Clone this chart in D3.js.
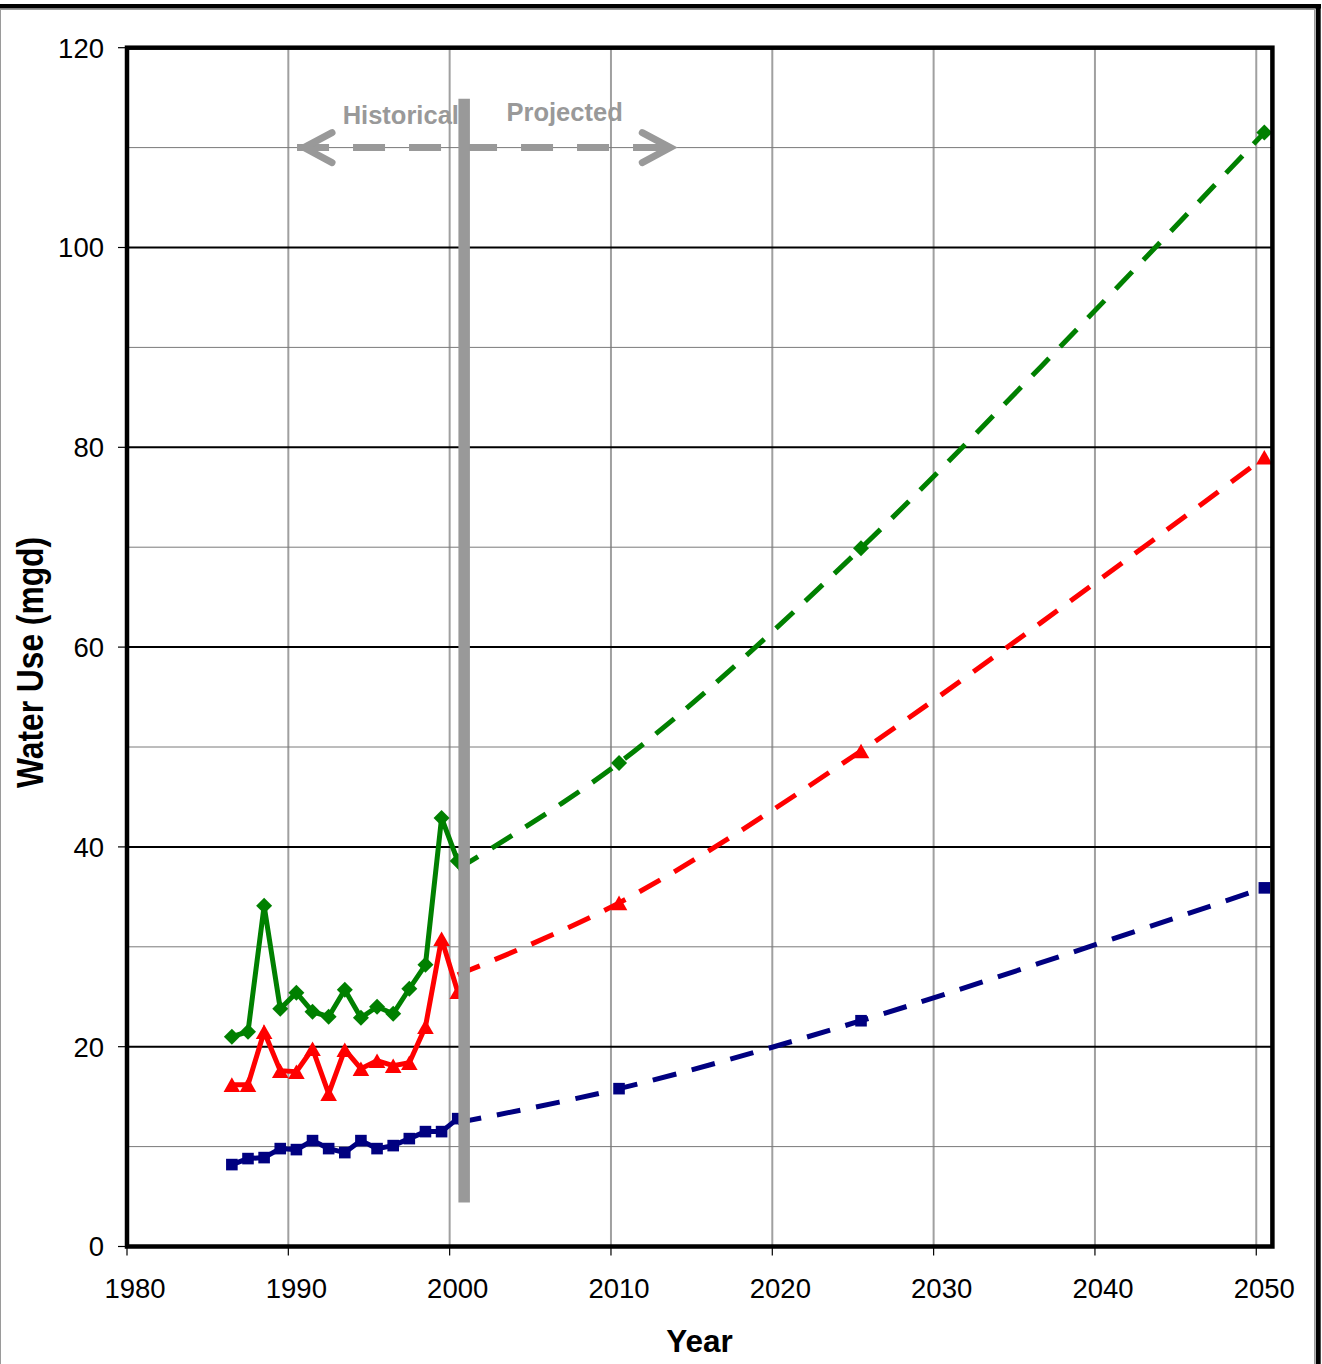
<!DOCTYPE html>
<html>
<head>
<meta charset="utf-8">
<script src="https://cdn.jsdelivr.net/npm/d3@7"></script>
<style>
  html, body { margin: 0; padding: 0; background: #fff; }
  svg { display: block; font-family: "Liberation Sans", Arial, sans-serif; }
</style>
</head>
<body>
<script>
// ---------- data ----------
const histYears = [1986, 1987, 1988, 1989, 1990, 1991, 1992, 1993, 1994, 1995, 1996, 1997, 1998, 1999, 2000];
const histTotal = [21.0, 21.5, 34.1, 23.8, 25.4, 23.5, 23.0, 25.7, 22.9, 24.0, 23.3, 25.8, 28.2, 42.9, 38.6];
const histMid   = [16.2, 16.2, 21.5, 17.6, 17.5, 19.8, 15.3, 19.7, 17.8, 18.6, 18.1, 18.4, 22.0, 30.8, 25.5];
const histLow   = [8.2, 8.8, 8.9, 9.8, 9.7, 10.6, 9.8, 9.4, 10.6, 9.8, 10.1, 10.8, 11.5, 11.5, 12.8];

const projYears = [2000, 2010, 2025, 2050];
const projTotal = [37.8, 48.4, 69.9, 111.5];
const projMid   = [27.2, 34.4, 49.6, 79.0];
const projLow   = [12.4, 15.8, 22.6, 35.9];

const xTicks = [1980, 1990, 2000, 2010, 2020, 2030, 2040, 2050];
const yTicks = [0, 20, 40, 60, 80, 100, 120];
const yMinor = [10, 30, 50, 70, 90, 110];

const xLabel = "Year";
const yLabel = "Water Use (mgd)";
const histText = "Historical";
const projText = "Projected";
const dividerYear = 2000.9;
const dividerRange = [4.4, 114.9];
const arrowLevel = 110;
const arrowRange = [1990.85, 2013.8];

// ---------- layout ----------
const W = 1322, H = 1364;
const svg = d3.select("body").append("svg").attr("width", W).attr("height", H);

const x = d3.scaleLinear().domain([1980, 2051]).range([127, 1272.4]);
const y = d3.scaleLinear().domain([0, 120]).range([1246.5, 47.7]);
const xp = yr => x(yr + 0.5);   // points centred in their year

// outer frame
svg.append("rect").attr("x", 0.5).attr("y", 9.5).attr("width", 1314).attr("height", H + 10)
  .attr("fill", "none").attr("stroke", "#9a9a9a").attr("stroke-width", 1);
svg.append("line").attr("x1", 0).attr("x2", 1321).attr("y1", 6.2).attr("y2", 6.2)
  .attr("stroke", "#000").attr("stroke-width", 4.5);
svg.append("line").attr("x1", 1318.2).attr("x2", 1318.2).attr("y1", 4).attr("y2", H)
  .attr("stroke", "#000").attr("stroke-width", 5);

const g = svg.append("g");

// gridlines
g.selectAll(".vgrid").data(xTicks.slice(1)).join("line")
  .attr("x1", d => x(d)).attr("x2", d => x(d)).attr("y1", y(120)).attr("y2", y(0))
  .attr("stroke", "#a0a0a0").attr("stroke-width", 2);
g.selectAll(".hminor").data(yMinor).join("line")
  .attr("x1", x(1980)).attr("x2", x(2051)).attr("y1", d => y(d)).attr("y2", d => y(d))
  .attr("stroke", "#7a7a7a").attr("stroke-width", 1);
g.selectAll(".hmajor").data(yTicks.slice(1, -1)).join("line")
  .attr("x1", x(1980)).attr("x2", x(2051)).attr("y1", d => y(d)).attr("y2", d => y(d))
  .attr("stroke", "#000").attr("stroke-width", 2);

// axes ticks & labels
g.selectAll(".ytick").data(yTicks).join("line")
  .attr("x1", 118).attr("x2", x(1980)).attr("y1", d => y(d)).attr("y2", d => y(d))
  .attr("stroke", "#000").attr("stroke-width", 1.2);
g.selectAll(".ylab").data(yTicks).join("text")
  .attr("x", 104).attr("y", d => y(d)).attr("dy", "0.36em")
  .attr("text-anchor", "end").attr("font-size", 27.5).attr("fill", "#000")
  .text(d => d);
g.selectAll(".xtick").data(xTicks).join("line")
  .attr("x1", d => x(d)).attr("x2", d => x(d)).attr("y1", y(0)).attr("y2", y(0) + 9)
  .attr("stroke", "#000").attr("stroke-width", 1.2);
g.selectAll(".xlab").data(xTicks).join("text")
  .attr("x", d => xp(d)).attr("y", 1298)
  .attr("text-anchor", "middle").attr("font-size", 27.5).attr("fill", "#000")
  .text(d => d);

svg.append("text").attr("x", 699.5).attr("y", 1352).attr("text-anchor", "middle")
  .attr("font-size", 31.5).attr("font-weight", "bold").text(xLabel);
svg.append("text").attr("transform", "translate(42.5,662.5) rotate(-90)")
  .attr("text-anchor", "middle").attr("font-size", 36).attr("font-weight", "bold")
  .attr("textLength", 251).attr("lengthAdjust", "spacingAndGlyphs").text(yLabel);

// series
const series = [
  { hist: histTotal, proj: projTotal, color: "#008000", marker: "diamond" },
  { hist: histMid,   proj: projMid,   color: "#ff0000", marker: "triangle" },
  { hist: histLow,   proj: projLow,   color: "#000080", marker: "square" }
];

function markerPath(type) {
  const p = d3.path();
  if (type === "diamond") { const r = 8; p.moveTo(0, -r); p.lineTo(r, 0); p.lineTo(0, r); p.lineTo(-r, 0); p.closePath(); }
  else if (type === "triangle") { const w = 8.3, h = 7.3; p.moveTo(0, -h); p.lineTo(w, h); p.lineTo(-w, h); p.closePath(); }
  else { const s = 5.8; p.rect(-s, -s, 2 * s, 2 * s); }
  return p.toString();
}

const lineHist = d3.line().x(d => xp(d[0])).y(d => y(d[1]));
const lineProj = d3.line().x(d => xp(d[0])).y(d => y(d[1])).curve(d3.curveCatmullRom.alpha(0.5));

series.forEach(s => {
  const hd = histYears.map((yr, i) => [yr, s.hist[i]]);
  const pd = projYears.map((yr, i) => [yr, s.proj[i]]);
  g.append("path").datum(pd).attr("d", lineProj).attr("fill", "none")
    .attr("stroke", s.color).attr("stroke-width", 5).attr("stroke-dasharray", "24,16");
  g.append("path").datum(hd).attr("d", lineHist).attr("fill", "none")
    .attr("stroke", s.color).attr("stroke-width", 5).attr("stroke-linejoin", "miter");
  g.selectAll(null).data(hd.concat(pd.slice(1))).join("path")
    .attr("d", markerPath(s.marker))
    .attr("transform", d => `translate(${xp(d[0])},${y(d[1])})`)
    .attr("fill", s.color);
});

// annotation: arrow + texts
const ag = svg.append("g").attr("stroke", "#999999").attr("fill", "none")
  .attr("stroke-width", 7).attr("stroke-linecap", "butt");
const ax1 = x(arrowRange[0]), ax2 = x(arrowRange[1]), ay = y(arrowLevel);
ag.append("line").attr("x1", ax1 - 5).attr("x2", ax2).attr("y1", ay).attr("y2", ay)
  .attr("stroke-dasharray", "32,24");
ag.append("path").attr("stroke-linecap", "round").attr("stroke-linejoin", "miter")
  .attr("d", `M${ax1 + 30},${ay - 15}L${ax1 + 2},${ay}L${ax1 + 30},${ay + 15}`);
ag.append("path").attr("stroke-linecap", "round")
  .attr("d", `M${ax2 - 30},${ay - 15}L${ax2 - 2},${ay}L${ax2 - 30},${ay + 15}`);
ag.append("line").attr("x1", ax2 - 38).attr("x2", ax2 - 4).attr("y1", ay).attr("y2", ay);

svg.append("text").attr("x", 342.7).attr("y", 123.5).attr("font-size", 25.5)
  .attr("font-weight", "bold").attr("fill", "#999999").text(histText);
svg.append("text").attr("x", 506.5).attr("y", 120.5).attr("font-size", 25.5)
  .attr("font-weight", "bold").attr("fill", "#999999").text(projText);

// divider bar
svg.append("line").attr("x1", x(dividerYear)).attr("x2", x(dividerYear))
  .attr("y1", y(dividerRange[1])).attr("y2", y(dividerRange[0]))
  .attr("stroke", "#999999").attr("stroke-width", 11.5);

// plot border
svg.append("rect").attr("x", x(1980)).attr("y", y(120))
  .attr("width", x(2051) - x(1980)).attr("height", y(0) - y(120))
  .attr("fill", "none").attr("stroke", "#000").attr("stroke-width", 4.5);
</script>
</body>
</html>
